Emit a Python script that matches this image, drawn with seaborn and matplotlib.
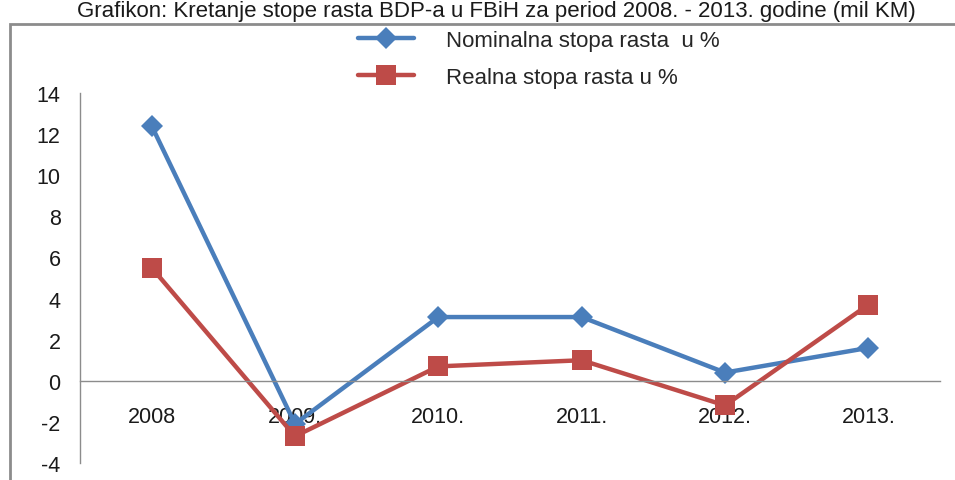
import numpy as np
import pandas as pd
import matplotlib
matplotlib.use("Agg")
import matplotlib.pyplot as plt
import seaborn as sns
from matplotlib.patches import Rectangle

### data
years = ["2008", "2009.", "2010.", "2011.", "2012.", "2013."]
nominalna = [12.4, -2.1, 3.1, 3.1, 0.4, 1.6]
realna = [5.5, -2.7, 0.7, 1.0, -1.2, 3.7]
labels = ["Nominalna stopa rasta  u %", "Realna stopa rasta u %"]
title = "Grafikon: Kretanje stope rasta BDP-a u FBiH za period 2008. - 2013. godine (mil KM)"

df = pd.DataFrame({"pos": np.arange(len(years)), "year": years,
                   "nominalna": nominalna, "realna": realna})

sns.set_style("white")
plt.rcParams["font.family"] = ["Liberation Sans", "DejaVu Sans"]
plt.rcParams["axes.unicode_minus"] = False

fig = plt.figure(figsize=(9.55, 4.81), dpi=100)
ax = fig.add_axes([80 / 955, 1 - 464 / 481, 860 / 955, 370 / 481])

blue = "#4A7EBB"
red = "#BE4B48"
sns.lineplot(data=df, x="pos", y="nominalna", ax=ax, color=blue, lw=3.2,
             marker="D", markersize=11, markeredgewidth=0, label=labels[0])
sns.lineplot(data=df, x="pos", y="realna", ax=ax, color=red, lw=3.2,
             marker="s", markersize=14, markeredgewidth=0, label=labels[1])

ax.set_xlim(-0.5, len(years) - 0.5)
ax.set_ylim(-4, 14)
ax.set_yticks(np.arange(-4, 15, 2))
ax.set_xlabel("")
ax.set_ylabel("")

# excel-like axes: x axis sits on zero, ticks between categories
for s in ["top", "right"]:
    ax.spines[s].set_visible(False)
ax.spines["bottom"].set_position(("data", 0))
ax.spines["bottom"].set_color("#8c8c8c")
ax.spines["left"].set_color("#8c8c8c")
ax.spines["bottom"].set_linewidth(1)
ax.spines["left"].set_linewidth(1)
ax.set_xticks(df["pos"])
ax.set_xticklabels(years)
ax.set_xticks(np.arange(0.5, len(years), 1), minor=True)
ax.tick_params(axis="x", which="major", length=0, pad=18, labelsize=15.5, labelcolor="#1a1a1a")
ax.tick_params(axis="x", which="minor", length=6, direction="out", color="#8c8c8c", width=1)
ax.tick_params(axis="y", length=6, direction="out", color="#8c8c8c", width=1,
               pad=8, labelsize=15.5, labelcolor="#1a1a1a")

ax.legend(loc="upper left", bbox_to_anchor=(358 / 955, 1 - 31 / 481),
          bbox_transform=fig.transFigure, frameon=False, fontsize=16,
          handlelength=2.5, handletextpad=1.45, labelspacing=0.72,
          borderpad=0, borderaxespad=0)

# outer frame and title
fig.patches.append(Rectangle((10 / 955, -0.1), 1.2, 1 - 25 / 481 + 0.1,
                             transform=fig.transFigure, fill=False,
                             edgecolor="#8c8c8c", lw=2))
fig.text(0.52, 1 - 17 / 481, title, ha="center", va="baseline", fontsize=16,
         color="#1a1a1a")

fig.savefig("out.png", dpi=100)
